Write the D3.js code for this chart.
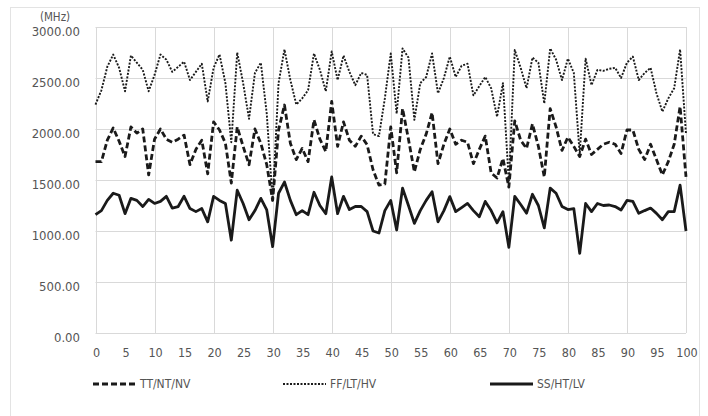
<!DOCTYPE html>
<html>
<head>
<meta charset="utf-8">
<script src="https://cdn.jsdelivr.net/npm/d3@7"></script>
<style>
  body { margin: 0; background: #fff; }
  svg { display: block; }
  text { font-family: "DejaVu Sans Condensed", "DejaVu Sans", sans-serif; fill: #555; }
</style>
</head>
<body>
<svg width="708" height="416"></svg>
<script>
// ......... data (MHz per sample) .........
const samples = d3.range(0, 101);
const xTicks = d3.range(0, 101, 5);
const yTicks = [0, 500, 1000, 1500, 2000, 2500, 3000];
const seriesNames = ['TT/NT/NV', 'FF/LT/HV', 'SS/HT/LV'];

const ttValues = [1680,1680,1890,2010,1880,1730,2020,1960,2000,1550,1900,2000,1900,1870,1900,1940,1650,1800,1890,1560,
  2070,1990,1860,1470,2020,1830,1650,2000,1860,1650,1300,1990,2235,1860,1700,1810,1680,2090,1900,1780,
  2270,1830,2070,1890,1830,1930,1845,1600,1450,1460,2020,1570,2200,1900,1580,1800,1950,2160,1660,1850,
  2000,1850,1890,1870,1660,1800,1930,1570,1520,1710,1430,2080,1890,1810,2050,1830,1530,2200,2020,1790,
  1920,1830,1730,1900,1750,1800,1850,1870,1850,1760,1990,1990,1800,1700,1850,1700,1550,1680,1850,2220,1530];

const ffValues = [2240,2380,2610,2730,2600,2370,2720,2650,2580,2370,2530,2730,2680,2560,2610,2660,2480,2560,2640,2270,
  2600,2730,2450,1870,2750,2450,2100,2550,2650,2150,1300,2450,2780,2480,2240,2300,2380,2740,2580,2370,
  2760,2480,2720,2560,2430,2550,2530,1950,1930,2300,2740,2150,2790,2700,2090,2450,2510,2740,2350,2500,
  2710,2510,2620,2640,2330,2420,2510,2400,2120,2450,1480,2775,2600,2400,2700,2650,2250,2790,2680,2480,
  2690,2550,1750,2690,2430,2580,2570,2590,2600,2500,2650,2710,2480,2550,2600,2350,2170,2300,2400,2780,1950];

const ssValues = [1160,1200,1300,1370,1350,1170,1320,1300,1240,1310,1270,1290,1340,1225,1240,1340,1220,1190,1220,1090,
  1340,1300,1270,910,1400,1270,1110,1200,1320,1206,846,1370,1480,1300,1160,1200,1160,1380,1250,1170,
  1530,1170,1340,1210,1240,1240,1190,1000,980,1200,1300,1010,1420,1250,1075,1200,1300,1385,1090,1200,
  1337,1190,1230,1270,1200,1140,1290,1200,1080,1190,840,1340,1260,1175,1360,1250,1030,1420,1370,1240,
  1210,1220,780,1270,1190,1270,1250,1255,1240,1206,1300,1290,1173,1200,1225,1173,1110,1190,1190,1450,1000];

// ......... setup .........
const svg = d3.select('svg');
const x = d3.scaleLinear().domain([0, 100]).range([95.5, 686]);
const y = d3.scaleLinear().domain([0, 3000]).range([333, 27]);

// outer chart border
svg.append('rect')
  .attr('x', 10.5).attr('y', 7.5)
  .attr('width', 689).attr('height', 420)
  .attr('fill', 'none')
  .attr('stroke', '#e3e3e3');

// gridlines
const grid = svg.append('g').attr('stroke', '#d9d9d9').attr('stroke-width', 1);
grid.selectAll('.h').data(yTicks).join('line')
  .attr('x1', x(0)).attr('x2', x(100))
  .attr('y1', d => Math.round(y(d)) + 0.5).attr('y2', d => Math.round(y(d)) + 0.5);
grid.selectAll('.v').data(d3.range(0, 101, 10)).join('line')
  .attr('x1', d => Math.round(x(d)) + 0.5).attr('x2', d => Math.round(x(d)) + 0.5)
  .attr('y1', y(3000)).attr('y2', y(0));

// axis labels
svg.append('g').selectAll('text').data(yTicks).join('text')
  .attr('x', 80).attr('y', d => y(d) + 5)
  .attr('text-anchor', 'end')
  .attr('dominant-baseline', 'middle')
  .attr('font-size', 13)
  .text(d => d3.format('.2f')(d));

svg.append('g').selectAll('text').data(xTicks).join('text')
  .attr('x', d => x(d) + 1).attr('y', 353)
  .attr('text-anchor', 'middle')
  .attr('dominant-baseline', 'middle')
  .attr('font-size', 12.5)
  .text(d => d);

svg.append('text')
  .attr('x', 55).attr('y', 17)
  .attr('text-anchor', 'middle')
  .attr('dominant-baseline', 'middle')
  .attr('font-size', 11.5)
  .text('(MHz)');

// ......... lines .........
const styles = [
  { values: ttValues, width: 2.8, dash: '6,3' },
  { values: ffValues, width: 1.9, dash: '2,1.5' },
  { values: ssValues, width: 2.8, dash: null }
];
const line = d3.line().x((d, i) => x(samples[i])).y(d => y(d));

svg.append('g').selectAll('path').data(styles).join('path')
  .attr('d', d => line(d.values))
  .attr('fill', 'none')
  .attr('stroke', '#1a1a1a')
  .attr('stroke-width', d => d.width)
  .attr('stroke-dasharray', d => d.dash)
  .attr('stroke-linejoin', 'round');

// ......... legend .........
const legendX = [93, 283, 490];
const legend = svg.append('g').selectAll('g').data(styles).join('g')
  .attr('transform', (d, i) => `translate(${legendX[i]} 384)`);
legend.append('line')
  .attr('x1', 0).attr('x2', 43)
  .attr('stroke', '#1a1a1a')
  .attr('stroke-width', d => d.width)
  .attr('stroke-dasharray', d => d.dash);
legend.append('text')
  .attr('x', 47).attr('y', 0)
  .attr('dominant-baseline', 'middle')
  .attr('font-size', 12)
  .text((d, i) => seriesNames[i]);
</script>
</body>
</html>
